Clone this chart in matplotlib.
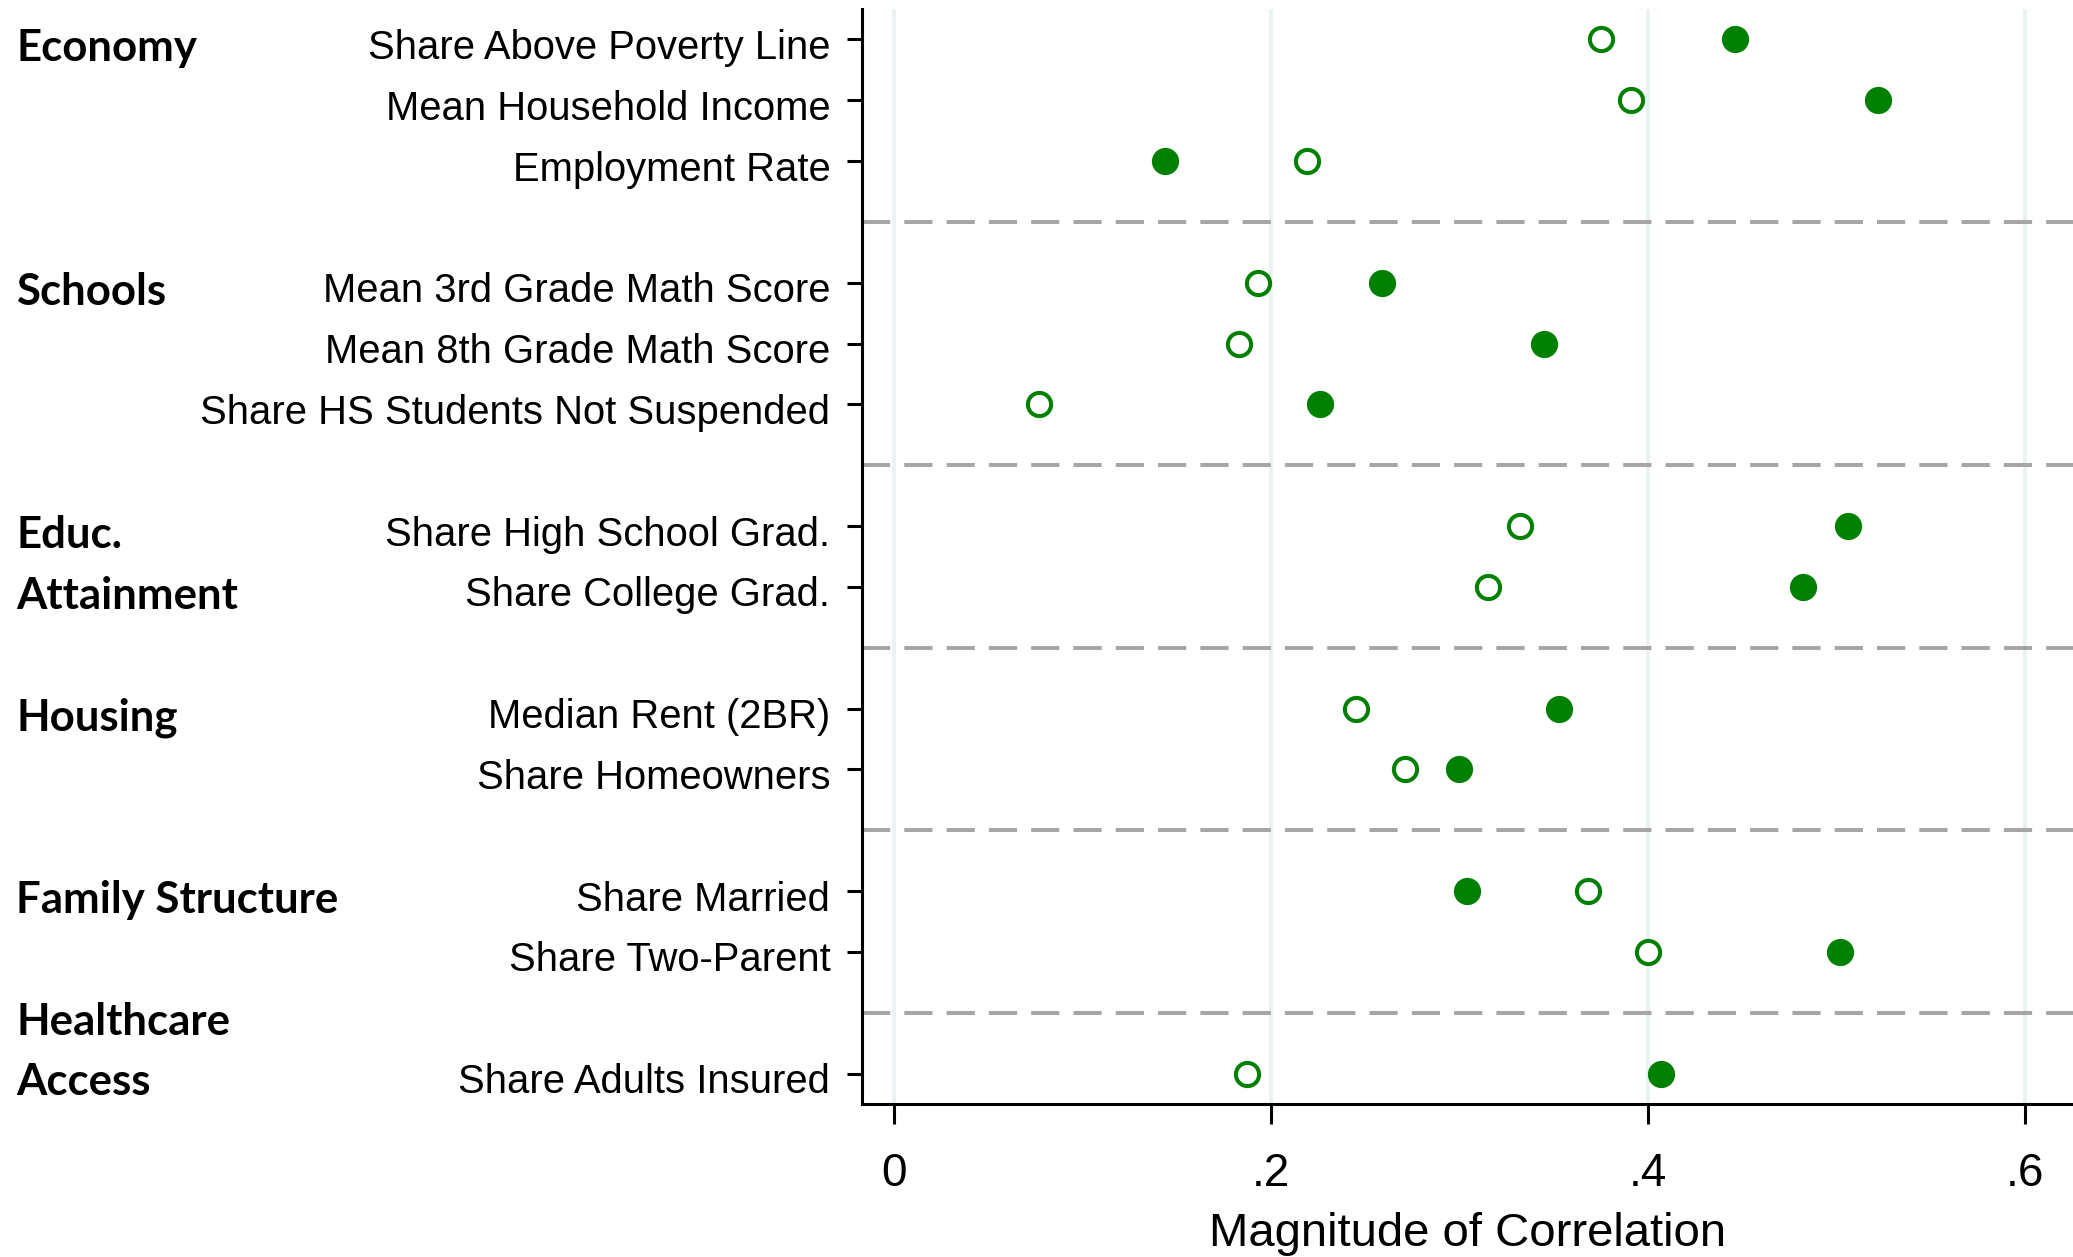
import numpy as np
import matplotlib.pyplot as plt
from matplotlib.transforms import blended_transform_factory, ScaledTranslation

plt.rcParams['font.family'] = ['Liberation Sans', 'DejaVu Sans']

# ------------------------------ data ---------------------------------------
groups = ["Economy", "Schools", "Educ.\nAttainment", "Housing",
          "Family Structure", "Healthcare\nAccess"]
group_sizes = [3, 3, 2, 2, 2, 1]

measures = [
    "Share Above Poverty Line",
    "Mean Household Income",
    "Employment Rate",
    "Mean 3rd Grade Math Score",
    "Mean 8th Grade Math Score",
    "Share HS Students Not Suspended",
    "Share High School Grad.",
    "Share College Grad.",
    "Median Rent (2BR)",
    "Share Homeowners",
    "Share Married",
    "Share Two-Parent",
    "Share Adults Insured",
]

corr_open = [0.375, 0.391, 0.219, 0.193, 0.183, 0.077, 0.332, 0.315,
             0.245, 0.271, 0.368, 0.400, 0.187]
corr_filled = [0.446, 0.522, 0.144, 0.259, 0.345, 0.226, 0.506, 0.482,
               0.353, 0.300, 0.304, 0.502, 0.407]

xticks = [0, 0.2, 0.4, 0.6]
xticklabels = ["0", ".2", ".4", ".6"]

# ------------------------- row layout --------------------------------------
# one empty slot between groups; the dashed separator sits in it
ypos, group_rows, separators = [], [], []
slot = 0
for i, n in enumerate(group_sizes):
    if i > 0:
        separators.append(slot)
        slot += 1
    group_rows.append((slot, slot + n - 1))
    ypos.extend(range(slot, slot + n))
    slot += n

green = '#008000'

fig = plt.figure(figsize=(20.73, 12.57), dpi=100)
ax = fig.add_axes([862 / 2073, 1 - 1104 / 1257, 1 - 862 / 2073, 1095 / 1257])

for v in xticks:
    ax.axvline(v, color='#EAF2F3', lw=2.9, zorder=0)
for s in separators:
    ax.axhline(s, color='#A6A6A6', lw=2.9, dashes=(7, 3.5), zorder=1)

ax.plot(corr_filled, ypos, 'o', ls='none', ms=19.6, mew=0, color=green, zorder=3)
ax.plot(corr_open, ypos, 'o', ls='none', ms=16.7, mfc='white', mec=green,
        mew=2.9, zorder=3)

ax.set_xlim(-0.017, 0.6255)
ax.set_ylim(len(ypos) + len(separators) - 0.5, -0.5)

ax.set_yticks(ypos)
ax.set_yticklabels(measures, fontsize=28.8)
ax.tick_params(axis='y', length=10.8, width=2.2, pad=12)
# nudge the row labels a little below the tick line
shift = ScaledTranslation(0, -0.045, fig.dpi_scale_trans)
for lab in ax.get_yticklabels():
    lab.set_transform(lab.get_transform() + shift)

ax.set_xticks(xticks)
ax.set_xticklabels(xticklabels)
ax.tick_params(axis='x', length=14.4, width=2.2, pad=20, labelsize=33)
ax.set_xlabel("Magnitude of Correlation", fontsize=34, labelpad=12)

for side in ['top', 'right']:
    ax.spines[side].set_visible(False)
for side in ['left', 'bottom']:
    ax.spines[side].set_linewidth(2.2)

# group headings on the far left
trans = blended_transform_factory(fig.transFigure, ax.transData)
for name, (first, last) in zip(groups, group_rows):
    lines = name.split("\n")
    start = min(first, last - len(lines) + 1)
    for k, line in enumerate(lines):
        ax.text(0.0078, start + k + 0.36, line, transform=trans,
                family=['Lato', 'DejaVu Sans'], fontweight='bold',
                fontsize=31.5, ha='left', va='baseline', clip_on=False)

fig.savefig('out.png', dpi=100)
